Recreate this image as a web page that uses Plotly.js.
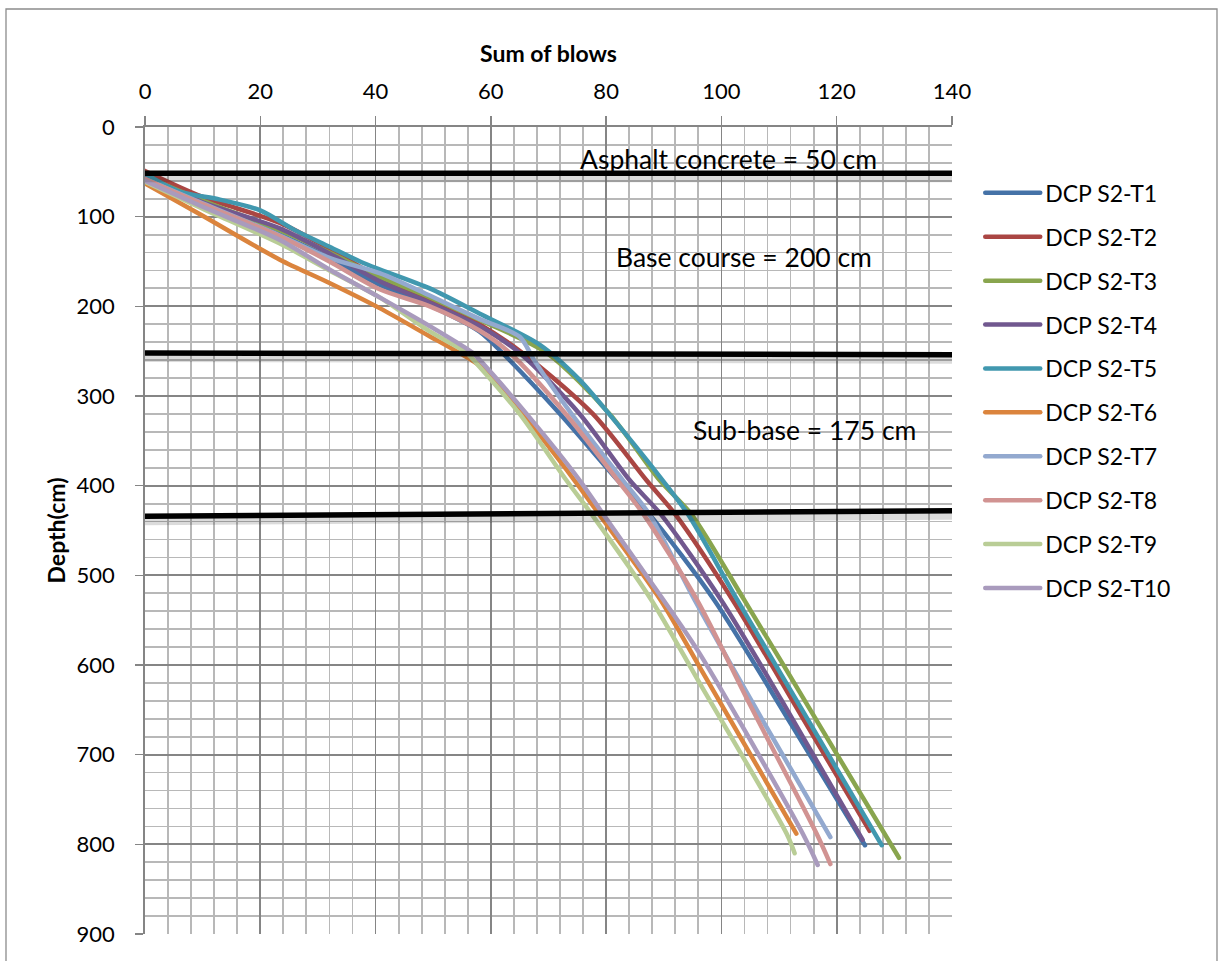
<!DOCTYPE html>
<html><head><meta charset="utf-8">
<script src="https://cdn.plot.ly/plotly-3.0.1.min.js"></script>
<style>
html,body{margin:0;padding:0;background:#fff;}
#chart{width:1220px;height:961px;}
.scatterlayer .js-line{stroke-linecap:round;stroke-linejoin:round;}
.legendlines path{stroke-linecap:round;}
</style></head><body><div id="chart"></div>
<script>
// ---- data ----
const seriesNames = ['DCP S2-T1','DCP S2-T2','DCP S2-T3','DCP S2-T4','DCP S2-T5','DCP S2-T6','DCP S2-T7','DCP S2-T8','DCP S2-T9','DCP S2-T10'];

const t1Blows = [0, 10, 23.4, 32, 40.7, 49.4, 58, 62, 72, 82, 87.5, 98.8, 112, 124.9];
const t1Depth = [57, 86, 120, 146, 176, 199, 228, 252, 320, 394, 432, 528, 665, 801];

const t2Blows = [0, 10, 23.4, 32, 40.7, 49.4, 58, 65.5, 77.7, 87, 92, 102, 114, 125.7];
const t2Depth = [49, 78, 107, 136, 168, 192, 220, 252, 320, 394, 432, 528, 658, 785];

const t3Blows = [0, 10, 23.4, 32, 40.7, 49.4, 58, 69.7, 80.6, 89.3, 94.8, 104, 117, 130.8];
const t3Depth = [55, 82, 115, 140, 167, 190, 215, 252, 320, 394, 432, 528, 667, 815];

const t4Blows = [0, 10, 23.4, 32, 40.7, 49.4, 58, 65, 75.4, 84.1, 89.5, 100, 110.4, 124.5];
const t4Depth = [55, 84, 113, 141, 172, 196, 222, 252, 320, 394, 432, 528, 639, 795];

const t5Blows = [0, 6, 13, 20, 26, 32, 38, 49.4, 58, 68.5, 75.4, 80.5, 89.8, 94.2, 102.8, 115, 127.8];
const t5Depth = [52, 72, 81, 93, 115, 133.5, 152, 180, 208, 243, 282, 320, 394, 432, 528, 661, 801];

const t6Blows = [0, 10, 23.4, 32, 40.7, 49, 54, 58, 65.5, 74.5, 78.8, 89.5, 96.2, 113];
const t6Depth = [63, 99, 148, 174, 202, 232, 250, 266, 320, 394, 432, 528, 602, 788];

const t7Blows = [0, 10, 23.4, 32, 40.7, 49.4, 58, 65, 67.5, 74, 82.9, 87.5, 95.4, 107, 118.9];
const t7Depth = [58, 85, 121, 146, 163, 188, 214, 234, 260, 320, 394, 432, 528, 660, 792];

const t8Blows = [0, 10, 23.4, 32, 40.7, 49.4, 58, 63.3, 73, 82, 86.5, 95.8, 105, 116.5, 118.9];
const t8Depth = [58, 86, 122, 150, 181, 200, 227, 252, 320, 394, 432, 528, 645, 788, 822];

const t9Blows = [0, 10, 23.4, 32, 40.7, 49.4, 55.8, 58.1, 65, 73.1, 77.5, 87.9, 96.2, 111.3, 112.7];
const t9Depth = [61, 91, 130, 160, 190, 228, 252, 268, 320, 394, 432, 528, 620, 788, 810];

const t10Blows = [0, 10, 23.4, 32, 40.7, 49.4, 56.9, 58.1, 66.2, 75.4, 79.5, 90, 96.2, 114.1, 116.7];
const t10Depth = [60, 89, 126, 159, 190, 222, 252, 260, 320, 394, 432, 528, 587, 788, 823];

const seriesBlows = [t1Blows, t2Blows, t3Blows, t4Blows, t5Blows, t6Blows, t7Blows, t8Blows, t9Blows, t10Blows];
const seriesDepth = [t1Depth, t2Depth, t3Depth, t4Depth, t5Depth, t6Depth, t7Depth, t8Depth, t9Depth, t10Depth];

const layerLabels = ['Asphalt concrete = 50 cm', 'Base course = 200 cm', 'Sub-base = 175 cm'];
const layerLineDepthLeft = [51.5, 252, 434];
const layerLineDepthRight = [51.5, 254, 428];

const xTickVals = [0, 20, 40, 60, 80, 100, 120, 140];
const yTickVals = [0, 100, 200, 300, 400, 500, 600, 700, 800, 900];

// ---- styles ----
const seriesColors = ['#4572A7','#AA4643','#89A54E','#71588F','#4198AF','#DB843D','#93A9CF','#D19392','#B9CD96','#A99BBD'];
const FONT = 'Lato, "Open Sans", sans-serif';

const traces = seriesNames.map((n, i) => ({
  type: 'scatter', mode: 'lines', name: n,
  x: seriesBlows[i], y: seriesDepth[i],
  line: {color: seriesColors[i], width: 4.5, shape: 'spline', smoothing: 0.8},
  legendgroup: 'g' + i,
  hoverinfo: 'x+y'
}));

const shapes = [];
layerLineDepthLeft.forEach((d, i) => {
  shapes.push({type: 'line', xref: 'x', yref: 'y', x0: 0, x1: 140,
    y0: d + 5, y1: layerLineDepthRight[i] + 5,
    line: {color: 'rgba(0,0,0,0.14)', width: 9}, layer: 'above'});
});
layerLineDepthLeft.forEach((d, i) => {
  shapes.push({type: 'line', xref: 'x', yref: 'y', x0: 0, x1: 140,
    y0: d, y1: layerLineDepthRight[i],
    line: {color: '#000', width: 5.5}, layer: 'above'});
});
// outer chart border
shapes.push({type: 'rect', xref: 'paper', yref: 'paper',
  x0: (6 - 145) / 807, x1: (1217 - 145) / 807,
  y0: 1 - (990 - 127) / 807, y1: 1 - (9 - 127) / 807,
  line: {color: '#8c8c8c', width: 1.3}, layer: 'above'});

const labelPos = [[75.2, 36], [81.3, 145], [94.8, 338]];
const annotations = layerLabels.map((t, i) => ({
  xref: 'x', yref: 'y', x: labelPos[i][0], y: labelPos[i][1],
  text: t, showarrow: false, xanchor: 'left', yanchor: 'middle',
  font: {family: FONT, size: 26.5, color: '#000'}
}));

const layout = {
  width: 1220, height: 961,
  margin: {l: 145, r: 268, t: 127, b: 27, pad: 0},
  paper_bgcolor: '#fff', plot_bgcolor: '#fff',
  font: {family: FONT, color: '#000'},
  showlegend: true,
  legend: {
    x: 1.035, xanchor: 'left', y: 0.945, yanchor: 'top',
    font: {family: FONT, size: 23, color: '#000'},
    itemwidth: 55, tracegroupgap: 11, traceorder: 'grouped',
    bgcolor: 'rgba(0,0,0,0)'
  },
  xaxis: {
    range: [0, 140], side: 'top', tickvals: xTickVals,
    showgrid: true, gridcolor: '#858585', gridwidth: 1.8,
    minor: {dtick: 4, tick0: 0, showgrid: true, gridcolor: '#b8b8b8', gridwidth: 1.8, ticks: '', ticklen: 0},
    ticks: 'outside', ticklen: 9, tickwidth: 1.3, tickcolor: '#858585',
    showline: true, linecolor: '#858585', linewidth: 1.8, zeroline: false, mirror: false,
    tickfont: {family: FONT, size: 22, color: '#000'},
    ticklabelstandoff: 8,
    title: {text: '<b>Sum of blows</b>', font: {family: FONT, size: 23, color: '#000'}, standoff: 8}
  },
  yaxis: {
    range: [900, 0], tickvals: yTickVals,
    showgrid: true, gridcolor: '#858585', gridwidth: 1.8,
    minor: {dtick: 20, tick0: 0, showgrid: true, gridcolor: '#b8b8b8', gridwidth: 1.8, ticks: '', ticklen: 0},
    ticks: 'outside', ticklen: 8, tickwidth: 1.3, tickcolor: '#858585',
    showline: true, linecolor: '#858585', linewidth: 1.8, zeroline: false, mirror: false,
    tickfont: {family: FONT, size: 22, color: '#000'},
    ticklabelstandoff: 16,
    title: {text: '<b>Depth(cm)</b>', font: {family: FONT, size: 23, color: '#000'}, standoff: 4}
  },
  shapes: shapes,
  annotations: annotations
};

Plotly.newPlot('chart', traces, layout, {displayModeBar: false, staticPlot: true});
</script></body></html>
